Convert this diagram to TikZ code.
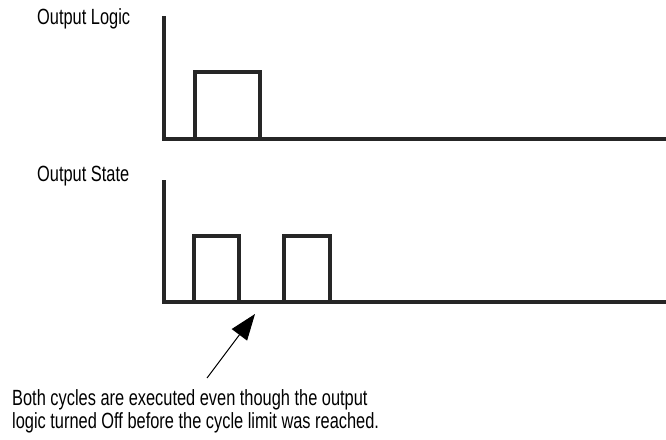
\documentclass[tikz,border=0pt]{standalone}
\usepackage{fontspec}
\setmainfont[FakeStretch=0.745]{Liberation Sans}
\usetikzlibrary{positioning, arrows.meta}

\begin{document}
\begin{tikzpicture}[
    x=1pt, y=-1pt,
    axis/.style={line width=3.2pt, black!85},
    pulse/.style={line width=3.2pt, black!85},
    label_style/.style={font=\fontsize{22}{23}\selectfont, anchor=base west, inner sep=0pt},
    note/.style={font=\fontsize{22}{23}\selectfont, align=left, anchor=north west, inner sep=0pt},
    pointer/.style={line width=1pt, -{Triangle[length=26pt, width=19pt]}}
]
    \useasboundingbox (0,0) rectangle (666,439);

    % ================= OUTPUT LOGIC =================
    \node[label_style] (logic) at (37,24) {Output Logic};
    \draw[axis] (164,16) -- (164,139) -- (666,139);
    \draw[pulse] (195,139) -- (195,72) -- (260,72) -- (260,139);

    % ================= OUTPUT STATE =================
    \node[label_style] (state) at (37,181) {Output State};
    \draw[axis] (164,180) -- (164,302) -- (666,302);
    \draw[pulse] (194,302) -- (194,236) -- (239,236) -- (239,302);
    \draw[pulse] (284,302) -- (284,236) -- (330,236) -- (330,302);

    % Note and arrow
    \node[note] (note) at (12,389) {Both cycles are executed even though the output\\logic turned Off before the cycle limit was reached.};
    \coordinate (tail) at (207,378);
    \coordinate (tip) at (255,314);
    \draw[pointer] (tail) -- (tip);

\end{tikzpicture}
\end{document}
